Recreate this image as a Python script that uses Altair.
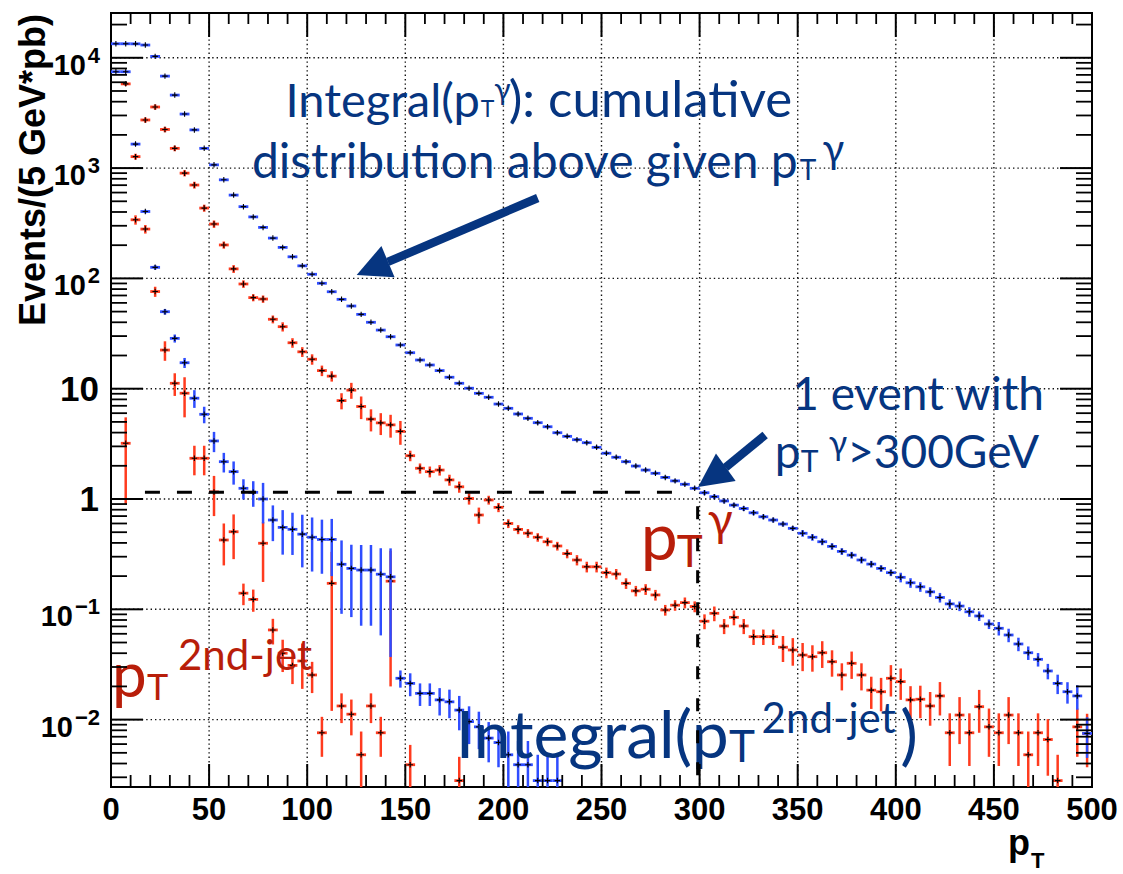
import altair as alt
import pandas as pd

# ---------------- data ----------------
# pT^gamma spectrum (red), 5 GeV bins
ptg_x = [7.5 + 5 * i for i in range(96)] + [492.5, 497.5]
ptg_y = [3.2, 340, 2730, 3580, 2240, 1510, 900, 702, 434, 311,
         201, 122, 89, 67, 65, 42.6, 36.5, 26.1, 21.6, 18.5,
         14.6, 13.0, 7.8, 9.7, 6.9, 5.3, 4.9, 4.7, 4.1, 2.47,
         1.90, 1.77, 1.83, 1.49, 1.29, 1.01, 0.716, 0.98, 0.84, 0.60,
         0.53, 0.49, 0.45, 0.41, 0.375, 0.32, 0.28, 0.243, 0.243, 0.215,
         0.209, 0.172, 0.147, 0.152, 0.135, 0.0986, 0.109, 0.115, 0.106, 0.078,
         0.092, 0.0706, 0.0846, 0.0706, 0.0565, 0.0565, 0.0565, 0.0453, 0.0428, 0.0385,
         0.0372, 0.0404, 0.0335, 0.0254, 0.0324, 0.0254, 0.0185, 0.0179, 0.0237, 0.0221,
         0.0151, 0.0153, 0.0133, 0.0164, 0.0076, 0.0110, 0.0076, 0.0131, 0.0086, 0.0076,
         0.0110, 0.0076, 0.0048, 0.0076, 0.0066, 0.0028,
         0.0086, 0.0075]
ptg_e = [2.3, 33, 150, 200, 130, 90, 60, 50, 32, 24,
         15, 10, 7, 5, 5, 3.5, 3.5, 2.6, 2.2, 2.0,
         1.6, 1.4, 1.3, 1.6, 1.6, 1.2, 1.1, 1.1, 1.0, 0.27,
         0.2, 0.2, 0.2, 0.17, 0.15, 0.12, 0.12, 0.09, 0.08, 0.055,
         0.05, 0.045, 0.04, 0.037, 0.034, 0.03, 0.03, 0.027, 0.027, 0.024,
         0.023, 0.019, 0.016, 0.017, 0.015, 0.011, 0.012, 0.013, 0.012, 0.012,
         0.014, 0.011, 0.013, 0.011, 0.009, 0.009, 0.009, 0.012, 0.012, 0.011,
         0.010, 0.011, 0.009, 0.007, 0.009, 0.007, 0.006, 0.006, 0.0075, 0.007,
         0.005, 0.005, 0.0045, 0.0055, 0.0038, 0.005, 0.0038, 0.0055, 0.004, 0.0038,
         0.005, 0.0038, 0.003, 0.0038, 0.0035, 0.002,
         0.004, 0.0038]

# Integral(pT^gamma) (blue)
intg_x = [2.5 + 5 * i for i in range(100)]
intg_y = [13400, 13400, 13380, 13050, 10300, 6820, 4590, 3090, 2220, 1510,
          1070, 783, 569, 447, 361, 290, 232, 191, 157, 130,
          109, 90.3, 75.7, 64.6, 56.2, 47.2, 40.0, 34.0, 29.6, 24.9,
          21.2, 18.2, 16.4, 14.6, 12.7, 11.2, 10.1, 9.08, 8.36, 7.26,
          6.64, 5.90, 5.39, 4.92, 4.52, 3.99, 3.70, 3.45, 3.24, 2.94,
          2.60, 2.39, 2.18, 1.99, 1.83, 1.71, 1.57, 1.46, 1.36, 1.25,
          1.14, 1.05, 0.96, 0.88, 0.82, 0.75, 0.69, 0.645, 0.593, 0.542,
          0.489, 0.45, 0.41, 0.372, 0.335, 0.31, 0.28, 0.257, 0.235, 0.215,
          0.195, 0.174, 0.160, 0.144, 0.128, 0.112, 0.107, 0.095, 0.087, 0.0736,
          0.0673, 0.0585, 0.0485, 0.0404, 0.0352, 0.0276, 0.0213, 0.0179, 0.0164, 0.0075]
intg_rel = [0.01, 0.01, 0.01, 0.01, 0.012, 0.012, 0.012, 0.012, 0.012, 0.012,
            0.012, 0.012, 0.012, 0.012, 0.012, 0.012, 0.012, 0.012, 0.012, 0.012,
            0.02, 0.02, 0.02, 0.02, 0.02, 0.02, 0.02, 0.02, 0.02, 0.02,
            0.02, 0.02, 0.02, 0.02, 0.02, 0.02, 0.02, 0.02, 0.02, 0.02,
            0.035, 0.035, 0.035, 0.035, 0.035, 0.035, 0.035, 0.035, 0.035, 0.035,
            0.035, 0.035, 0.035, 0.035, 0.035, 0.035, 0.035, 0.035, 0.035, 0.035,
            0.05, 0.05, 0.05, 0.05, 0.05, 0.05, 0.05, 0.05, 0.05, 0.05,
            0.07, 0.07, 0.07, 0.07, 0.07, 0.07, 0.07, 0.07, 0.07, 0.07,
            0.1, 0.1, 0.1, 0.1, 0.1, 0.1, 0.1, 0.1, 0.1, 0.1,
            0.14, 0.14, 0.14, 0.14, 0.14, 0.16, 0.2, 0.22, 0.25, 0.4]

# pT of 2nd jet (red)
pj_x = [7.5, 12.5, 17.5, 22.5, 27.5, 32.5, 37.5, 42.5, 47.5, 52.5,
        57.5, 62.5, 67.5, 72.5, 77.5, 82.5, 87.5, 92.5, 97.5, 102.5,
        107.5, 112.5, 117.5, 122.5, 127.5, 132.5, 137.5, 142.5, 152.5, 177.5]
pj_y = [5800, 1270, 280, 76, 22.4, 11.2, 9.1, 2.34, 2.34, 1.16,
        0.425, 0.505, 0.14, 0.123, 0.397, 0.065, 0.040, 0.031, 0.034, 0.0254,
        0.0076, 0.172, 0.0133, 0.0112, 0.0048, 0.0133, 0.0076, 0.18, 0.0039, 0.0028]
pj_e = [250, 80, 25, 8, 4.5, 2.6, 3.6, 0.7, 0.7, 0.46,
        0.175, 0.22, 0.031, 0.028, 0.22, 0.017, 0.013, 0.010, 0.015, 0.008,
        0.003, 0.16, 0.004, 0.004, 0.003, 0.004, 0.003, 0.16, 0.002, 0.0018]

# Integral(pT of 2nd jet) (blue)
intj_x = [2.5 + 5 * i for i in range(46)]
intj_y = [7470, 7470, 1650, 404, 126, 49.9, 28.6, 17.2, 8.2, 5.86,
          3.36, 2.18, 1.77, 1.25, 1.15, 1.0, 0.645, 0.553, 0.531, 0.48,
          0.45, 0.43, 0.43, 0.256, 0.235, 0.227, 0.227, 0.208, 0.197, 0.0237,
          0.0213, 0.0173, 0.0173, 0.0151, 0.0145, 0.0122, 0.0096, 0.0086, 0.0068, 0.0062,
          0.0048, 0.0039, 0.0039, 0.0028, 0.0028, 0.0028]
intj_e = [90, 90, 50, 14, 6, 3, 2.4, 1.8, 1.5, 1.0,
          0.7, 0.44, 0.42, 0.26, 0.3, 0.4, 0.23, 0.24, 0.22, 0.24,
          0.23, 0.22, 0.23, 0.165, 0.15, 0.156, 0.156, 0.15, 0.16, 0.0042,
          0.005, 0.004, 0.004, 0.0042, 0.0042, 0.0042, 0.0036, 0.0032, 0.0027, 0.0025,
          0.003, 0.0025, 0.0025, 0.002, 0.002, 0.002]

x_tick_labels = ["0", "50", "100", "150", "200", "250", "300", "350", "400", "450", "500"]
y_decades = [1e-2, 1e-1, 1, 10, 100, 1000, 10000]
y_base = ["10", "10", "1", "10", "10", "10", "10"]
y_exp = ["\u22122", "\u22121", "", "", "2", "3", "4"]

# ---------------- layout / style ----------------
W, H = 981, 774
YMIN, YMAX = 0.00245, 25470
BIN = 5.0
RED = "#FF3B1E"
BLUE = "#2F4DFF"
TXT_BLUE = "#063580"
TXT_RED = "#B81E0A"
AXFONT = "Liberation Sans"
ANFONT = "Lato"

xs = alt.Scale(domain=[0, 500], nice=False, zero=False)
ys = alt.Scale(type="log", domain=[YMIN, YMAX], nice=False)


def X(f):
    return alt.X(f, type="quantitative", scale=xs, axis=None)


def Y(f):
    return alt.Y(f, type="quantitative", scale=ys, axis=None)


def frame(xv, yv, ev):
    df = pd.DataFrame({"x": xv, "v": yv, "e": ev})
    df["x0"] = df["x"] - BIN / 2
    df["x1"] = df["x"] + BIN / 2
    df["lo"] = (df["v"] - df["e"]).clip(lower=1e-4)
    df["hi"] = df["v"] + df["e"]
    return df


def series(df, color):
    base = alt.Chart(df)
    vert = base.mark_rule(color=color, strokeWidth=2.5, clip=True).encode(
        x=X("x"), y=Y("lo"), y2="hi")
    hor = base.mark_rule(color=color, strokeWidth=2.8, clip=True).encode(
        x=X("x0"), x2="x1", y=Y("v"))
    cross = base.mark_point(shape="M-1,0L1,0M0,-1L0,1", size=30, color="black",
                            strokeWidth=1.1, opacity=1, clip=True).encode(
        x=X("x"), y=Y("v"))
    return [vert, hor, cross]


ptg = frame(ptg_x, ptg_y, ptg_e)
intg = frame(intg_x, intg_y, [v * r for v, r in zip(intg_y, intg_rel)])
pj = frame(pj_x, pj_y, pj_e)
intj = frame(intj_x, intj_y, intj_e)

layers = []

# grid (dotted)
xgrid = pd.DataFrame({"x": list(range(50, 500, 50))})
ygrid = pd.DataFrame({"y": y_decades})
layers.append(alt.Chart(xgrid).mark_rule(color="#111", strokeWidth=1.4, strokeDash=[1.4, 3]).encode(
    x=X("x"), y=alt.value(0), y2=alt.value(H)))
layers.append(alt.Chart(ygrid).mark_rule(color="#111", strokeWidth=1.4, strokeDash=[1.4, 3]).encode(
    y=Y("y"), x=alt.value(0), x2=alt.value(W)))

# data series (drawing order like ROOT)
layers += series(ptg, RED)
layers += series(intg, BLUE)
layers += series(pj, RED)
layers += series(intj, BLUE)

# annotations
B, R = TXT_BLUE, TXT_RED
ann_left = pd.DataFrame([
    ("T", 188.5, 2924, 23, B), ("\u03b3", 195.3, 4145, 30, B), ("): cumulative", 202.7, 2924, 51, B),
    ("T", 351.0, 780, 28, B), ("\u03b3", 362.7, 1112, 40, B),
    ("1  event with", 347.2, 6.41, 46, B),
    ("T", 351.6, 1.77, 30, B), ("\u03b3", 365.8, 2.51, 34, B),
    (">300GeV", 375.2, 1.90, 46, B),
    ("p", 270.0, 0.28, 66, R), ("T", 288.3, 0.243, 44, R), ("\u03b3", 304.1, 0.462, 46, R),
    ("p", 0.5, 0.016, 62, R), ("T", 18.3, 0.0151, 36, R), ("2nd-jet", 34.1, 0.0282, 42, R),
    ("T", 315.0, 0.00415, 44, B), ("2nd-jet", 331.6, 0.00756, 42, B), (")", 402.3, 0.00446, 66, B),
], columns=["t", "x", "y", "s", "c"])
ann_right = pd.DataFrame([
    ("Integral(p", 188.0, 2924, 47, B),
    ("distribution above given p", 350.0, 813, 48, B),
    ("p", 351.4, 1.90, 46, B),
    ("Integral(p", 314.8, 0.00446, 66, B),
], columns=["t", "x", "y", "s", "c"])
for df, al in ((ann_left, "left"), (ann_right, "right")):
    layers.append(alt.Chart(df).mark_text(font=ANFONT, align=al, baseline="alphabetic").encode(
        x=X("x"), y=Y("y"), text="t:N",
        size=alt.Size("s:Q", scale=None), color=alt.Color("c:N", scale=None)))

# arrows
shafts = pd.DataFrame({"x": [217.5, 333.4], "x2": [141.1, 313.2],
                       "y": [536, 3.80], "y2": [141, 1.93]})
heads = pd.DataFrame({"x": [133.2, 306.3], "y": [123.5, 1.58], "a": [247.2, 234.6]})
layers.append(alt.Chart(shafts).mark_rule(color=B, strokeWidth=8.5).encode(
    x=X("x"), x2="x2", y=Y("y"), y2="y2"))
layers.append(alt.Chart(heads).mark_point(shape="M0,-1L1,1L-1,1Z", filled=True, size=1156,
                                          color=B, opacity=1).encode(
    x=X("x"), y=Y("y"), angle=alt.Angle("a:Q", scale=None)))

# dashed guide lines
dash_h = pd.DataFrame({"x": [17.3], "x2": [286.5], "y": [1.15]})
dash_v = pd.DataFrame({"x": [299.0], "y": [0.86], "y2": [YMIN]})
layers.append(alt.Chart(dash_h).mark_rule(color="black", strokeWidth=3, strokeDash=[15, 17]).encode(
    x=X("x"), x2="x2", y=Y("y")))
layers.append(alt.Chart(dash_v).mark_rule(color="black", strokeWidth=3, strokeDash=[13, 19]).encode(
    x=X("x"), y=Y("y"), y2="y2"))

# ticks on all four sides (inward)
xmaj = pd.DataFrame({"x": list(range(0, 501, 50))})
xmin_ = pd.DataFrame({"x": [v for v in range(10, 500, 10) if v % 50]})
ymaj = pd.DataFrame({"y": y_decades})
ymin_ = pd.DataFrame({"y": [k * 10.0 ** e for e in range(-3, 5) for k in range(2, 10)
                            if YMIN < k * 10.0 ** e < YMAX]})
for df, lb, lt, sw in ((xmaj, 23, 24, 2.0), (xmin_, 12, 11, 1.8)):
    layers.append(alt.Chart(df).mark_rule(color="black", strokeWidth=sw).encode(
        x=X("x"), y=alt.value(H), y2=alt.value(H - lb)))
    layers.append(alt.Chart(df).mark_rule(color="black", strokeWidth=sw).encode(
        x=X("x"), y=alt.value(0), y2=alt.value(lt)))
for df, ln, sw in ((ymaj, 32, 2.0), (ymin_, 16, 1.8)):
    layers.append(alt.Chart(df).mark_rule(color="black", strokeWidth=sw).encode(
        y=Y("y"), x=alt.value(0), x2=alt.value(ln)))
    layers.append(alt.Chart(df).mark_rule(color="black", strokeWidth=sw).encode(
        y=Y("y"), x=alt.value(W), x2=alt.value(W - ln)))

# x tick labels
xl = pd.DataFrame({"x": list(range(0, 501, 50)), "t": x_tick_labels})
layers.append(alt.Chart(xl).mark_text(font=AXFONT, fontWeight="bold", fontSize=31, align="center",
                                      baseline="alphabetic", color="black").encode(
    x=X("x"), y=alt.value(807), text="t:N"))

# y tick labels
yl = pd.DataFrame({"y": y_decades, "b": y_base, "e": y_exp})
plain = yl[yl["e"] == ""]
pos = yl[(yl["e"] != "") & (yl["y"] > 1)]
neg = yl[(yl["e"] != "") & (yl["y"] < 1)]
layers.append(alt.Chart(plain).mark_text(font=AXFONT, fontWeight="bold", fontSize=35, align="right",
                                         baseline="alphabetic", dy=12, color="black").encode(
    x=alt.value(-12), y=Y("y"), text="b:N"))
layers.append(alt.Chart(yl[yl["e"] != ""]).mark_text(font=AXFONT, fontWeight="bold", fontSize=22,
                                                      align="right", baseline="alphabetic", dy=5,
                                                      color="black").encode(
    x=alt.value(-11), y=Y("y"), text="e:N"))
layers.append(alt.Chart(pos).mark_text(font=AXFONT, fontWeight="bold", fontSize=29, align="right",
                                       baseline="alphabetic", dy=17, color="black").encode(
    x=alt.value(-25), y=Y("y"), text="b:N"))
layers.append(alt.Chart(neg).mark_text(font=AXFONT, fontWeight="bold", fontSize=29, align="right",
                                       baseline="alphabetic", dy=17, color="black").encode(
    x=alt.value(-38), y=Y("y"), text="b:N"))

# axis titles
one = pd.DataFrame({"t": ["Events/(5 GeV*pb)"]})
layers.append(alt.Chart(one).mark_text(font=AXFONT, fontWeight="bold", fontSize=36, angle=270,
                                       align="center", baseline="alphabetic", color="black").encode(
    x=alt.value(-66), y=alt.value(157), text="t:N"))
layers.append(alt.Chart(pd.DataFrame({"t": ["p"]})).mark_text(
    font=AXFONT, fontWeight="bold", fontSize=36, align="left", baseline="alphabetic",
    color="black").encode(x=alt.value(897), y=alt.value(842), text="t:N"))
layers.append(alt.Chart(pd.DataFrame({"t": ["T"]})).mark_text(
    font=AXFONT, fontWeight="bold", fontSize=22, align="left", baseline="alphabetic",
    color="black").encode(x=alt.value(920), y=alt.value(855), text="t:N"))

chart = alt.layer(*layers).properties(
    width=W, height=H,
    padding={"left": 111, "top": 13, "right": 31, "bottom": 87},
    autosize=alt.AutoSizeParams(type="none"),
    background="white",
).configure_view(stroke="black", strokeWidth=2)

chart.save("out.html", embed_options={"renderer": "svg", "actions": False})
